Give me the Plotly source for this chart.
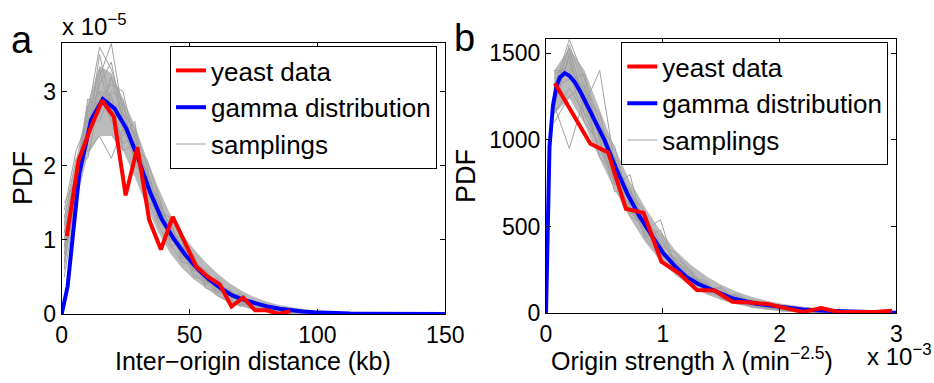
import plotly.graph_objects as go

# ---------------- Panel a : inter-origin distance ----------------
a_data_x = [2.0, 6.6, 11.2, 15.8, 20.4, 25.0, 29.6, 34.2, 38.8, 43.4, 48.0, 52.6,
            57.2, 61.8, 66.4, 71.0, 75.6, 80.2, 84.8, 89.4]
a_data_y = [1.05, 2.07, 2.5, 2.88, 2.66, 1.6, 2.25, 1.27, 0.87, 1.31, 0.98, 0.64,
            0.5, 0.4, 0.1, 0.22, 0.05, 0.05, 0.0, 0.04]

a_gamma_x = [0, 2.3, 6.9, 11.5, 16.1, 20.7, 25.3, 29.9, 34.5, 39.1, 43.7, 48.3, 52.9,
             57.5, 62.1, 66.7, 71.3, 75.9, 80.5, 85.1, 89.7, 94.3, 98.9, 103.5, 108.1,
             112.7, 117.3, 121.9, 126.5, 131.1, 135.7, 140.3, 144.9, 150]
a_gamma_y = [0, 0.37, 1.9, 2.62, 2.9, 2.77, 2.5, 2.1, 1.65, 1.28, 1.02, 0.8, 0.62,
             0.47, 0.35, 0.25, 0.19, 0.14, 0.1, 0.07, 0.05, 0.035, 0.025, 0.015, 0.01,
             0.007, 0.005, 0.003, 0.002, 0.001, 0.0005, 0.0003, 0.0002, 0.0001]

a_samp_x = [1, 5.6, 10.2, 14.8, 19.4, 24, 28.6, 33.2, 37.8, 42.4, 47, 51.6, 56.2,
            60.8, 65.4, 70, 74.6, 79.2, 83.8, 88.4, 93, 97.6, 102.2, 106.8, 111.4, 116]
a_core_low = [0.6, 1.5, 2.15, 2.4, 2.4, 2.2, 1.85, 1.45, 1.1, 0.82, 0.62, 0.47, 0.35,
              0.24, 0.15, 0.1, 0.06, 0.03, 0.015, 0.005, 0, 0, 0, 0, 0, 0]
a_core_high = [1.3, 2.1, 2.85, 3.35, 3.25, 2.9, 2.55, 2.1, 1.7, 1.35, 1.08, 0.88, 0.7,
               0.55, 0.42, 0.32, 0.24, 0.18, 0.13, 0.1, 0.07, 0.05, 0.035, 0.025, 0.018, 0.01]
a_samplings = [
    [0.9, 1.9, 2.7, 3.6, 3.3, 2.8, 2.4, 1.9, 1.5, 1.2, 0.9, 0.75, 0.55, 0.45, 0.3, 0.22, 0.15, 0.1, 0.09, 0.04, 0.05, 0.02, 0.0, 0.02],
    [1.3, 2.1, 2.2, 2.4, 2.1, 2.5, 2.3, 1.9, 1.3, 1.1, 0.8, 0.6, 0.45, 0.3, 0.3, 0.15, 0.1, 0.13, 0.04, 0.02, 0.0, 0.01],
    [0.7, 1.6, 2.5, 3.1, 3.4, 2.6, 2.1, 1.7, 1.5, 1.0, 0.95, 0.6, 0.5, 0.35, 0.25, 0.2, 0.12, 0.06, 0.1, 0.05, 0.02, 0.03, 0.0],
    [1.1, 1.8, 2.9, 2.8, 2.9, 2.7, 2.5, 2.0, 1.4, 1.3, 0.75, 0.7, 0.6, 0.4, 0.22, 0.28, 0.1, 0.08, 0.05, 0.07, 0.01, 0.0],
    [0.5, 1.5, 2.4, 3.5, 2.8, 2.3, 2.4, 1.6, 1.2, 0.9, 1.0, 0.55, 0.4, 0.45, 0.2, 0.12, 0.18, 0.05, 0.03, 0.02, 0.04, 0.0, 0.01, 0.0, 0.02],
    [1.4, 2.2, 2.6, 2.6, 3.0, 2.9, 2.0, 1.85, 1.35, 1.15, 0.85, 0.8, 0.35, 0.3, 0.35, 0.18, 0.08, 0.12, 0.09, 0.03, 0.0, 0.02],
    [0.8, 1.7, 2.3, 3.2, 3.65, 2.7, 2.2, 2.1, 1.6, 0.95, 0.7, 0.65, 0.55, 0.38, 0.28, 0.25, 0.14, 0.09, 0.02, 0.06, 0.03, 0.0],
    [1.0, 1.6, 2.8, 3.0, 2.6, 2.4, 2.6, 1.5, 1.45, 1.2, 0.9, 0.5, 0.48, 0.25, 0.18, 0.1, 0.2, 0.04, 0.06, 0.0, 0.03, 0.02],
    [0.6, 2.0, 2.1, 2.9, 3.1, 3.0, 2.3, 1.8, 1.25, 1.05, 0.8, 0.7, 0.42, 0.5, 0.25, 0.15, 0.1, 0.15, 0.05, 0.08, 0.02, 0.01, 0.03, 0.0],
    [1.2, 1.9, 2.6, 3.3, 2.7, 2.5, 2.1, 1.95, 1.5, 1.0, 1.05, 0.6, 0.52, 0.32, 0.32, 0.2, 0.12, 0.1, 0.07, 0.03, 0.0],
    [0.9, 1.5, 2.5, 2.7, 3.2, 2.6, 2.45, 1.7, 1.6, 1.1, 0.85, 0.72, 0.45, 0.4, 0.2, 0.22, 0.16, 0.06, 0.08, 0.04, 0.05, 0.01, 0.0, 0.01, 0.0, 0.01],
    [1.5, 1.8, 2.35, 3.0, 2.95, 2.2, 2.3, 1.65, 1.3, 1.25, 0.7, 0.68, 0.58, 0.28, 0.3, 0.13, 0.07, 0.1, 0.03, 0.01, 0.02, 0.0],
]

# ---------------- Panel b : origin strength ----------------
b_data_x = [0.076, 0.228, 0.38, 0.532, 0.684, 0.836, 0.988, 1.14, 1.292, 1.444,
            1.596, 1.748, 1.9, 2.052, 2.204, 2.356, 2.508, 2.66, 2.812, 2.964]
b_data_y = [1326, 1150, 978, 928, 603, 578, 298, 231, 134, 131,
            67, 62, 54, 30, 8, 30, 8, 8, 8, 14]

b_gamma_x = [0, 0.03, 0.06, 0.09, 0.12, 0.16, 0.2, 0.25, 0.3, 0.4, 0.5, 0.6, 0.7, 0.8,
             0.9, 1.0, 1.1, 1.2, 1.3, 1.4, 1.5, 1.6, 1.8, 2.0, 2.2, 2.4, 2.6, 2.8, 3.0]
b_gamma_y = [0, 960, 1200, 1310, 1362, 1385, 1370, 1330, 1270, 1140, 1000, 835, 685, 560,
             450, 350, 275, 211, 170, 140, 110, 85, 55, 36, 22, 14, 9, 5, 3]

b_samp_x = [0.07, 0.2, 0.33, 0.46, 0.59, 0.72, 0.85, 0.98, 1.11, 1.24, 1.37, 1.5, 1.63,
            1.76, 1.89, 2.02, 2.15, 2.28, 2.41, 2.54, 2.67, 2.8, 2.93]
b_core_low = [1150, 1240, 1090, 890, 710, 550, 410, 300, 220, 158, 110, 76, 52, 33, 20,
              10, 5, 2, 0, 0, 0, 0, 0]
b_core_high = [1400, 1530, 1400, 1170, 950, 760, 610, 475, 360, 280, 215, 165, 125, 95,
               72, 55, 42, 32, 24, 17, 13, 10, 7]
b_samplings = [
    [1300, 1580, 1350, 1100, 880, 700, 540, 420, 300, 240, 150, 130, 90, 60, 50, 20, 30, 10, 5, 10, 0],
    [1200, 950, 1250, 1000, 760, 600, 470, 360, 270, 190, 170, 100, 70, 60, 30, 25, 10, 12, 0, 5],
    [1350, 1450, 1200, 1400, 850, 640, 500, 380, 290, 230, 140, 110, 85, 40, 45, 15, 18, 5, 8, 0, 3],
    [1150, 1300, 1150, 950, 780, 680, 430, 330, 310, 180, 160, 90, 60, 50, 25, 30, 8, 10, 3, 0],
    [1250, 1550, 1300, 1050, 900, 620, 560, 400, 250, 220, 130, 120, 100, 70, 35, 40, 20, 15, 10, 3, 5, 0, 2],
    [1400, 1400, 1100, 980, 700, 720, 480, 540, 260, 200, 190, 85, 55, 45, 60, 20, 12, 25, 5, 8, 0],
    [1180, 1500, 1250, 1150, 820, 580, 520, 450, 270, 170, 150, 140, 75, 55, 40, 28, 35, 8, 12, 3, 6, 2],
    [1300, 1350, 1380, 1000, 740, 800, 450, 350, 320, 250, 120, 100, 110, 65, 30, 15, 10, 5, 15, 5, 0, 3, 0],
    [1220, 1480, 1150, 1080, 960, 600, 500, 370, 240, 200, 175, 95, 65, 80, 50, 35, 20, 10, 6, 10, 2],
    [1380, 1420, 1280, 900, 800, 700, 580, 340, 280, 190, 140, 150, 80, 35, 28, 45, 15, 20, 4, 0, 5],
    [1100, 1250, 1320, 1020, 860, 640, 440, 480, 290, 215, 165, 90, 95, 50, 38, 22, 25, 6, 10, 2, 0],
    [1280, 1530, 1200, 940, 900, 560, 510, 390, 350, 230, 130, 115, 70, 72, 42, 30, 12, 14, 2, 6, 3, 1],
]

a_xticks = [0, 50, 100, 150]
a_yticks = [0, 1, 2, 3]
b_xticks = [0, 1, 2, 3]
b_yticks = [0, 500, 1000, 1500]

FONT = "Liberation Sans, Arial, sans-serif"
GRAY = "rgb(160,160,160)"
CORE = "rgb(186,186,186)"
RED = "rgb(255,0,0)"
BLUE = "rgb(0,0,255)"

fig = go.Figure()


def add_panel(xa, ya, leg, sx, low, high, samps, gx, gy, dx, dy):
    fig.add_trace(go.Scatter(
        x=sx + sx[::-1], y=high + low[::-1], fill="toself", fillcolor=CORE,
        line=dict(width=0), mode="lines", hoverinfo="skip", showlegend=False,
        xaxis=xa, yaxis=ya))
    for i, s in enumerate(samps):
        fig.add_trace(go.Scatter(
            x=sx[:len(s)], y=s, mode="lines", line=dict(color=GRAY, width=1),
            name="samplings", showlegend=(i == 0), legend=leg, legendrank=3,
            xaxis=xa, yaxis=ya))
    fig.add_trace(go.Scatter(
        x=gx, y=gy, mode="lines", line=dict(color=BLUE, width=4),
        name="gamma distribution", legend=leg, legendrank=2, xaxis=xa, yaxis=ya))
    fig.add_trace(go.Scatter(
        x=dx, y=dy, mode="lines", line=dict(color=RED, width=4),
        name="yeast data", legend=leg, legendrank=1, xaxis=xa, yaxis=ya))


add_panel("x", "y", "legend", a_samp_x, a_core_low, a_core_high, a_samplings,
          a_gamma_x, a_gamma_y, a_data_x, a_data_y)
add_panel("x2", "y2", "legend2", b_samp_x, b_core_low, b_core_high, b_samplings,
          b_gamma_x, b_gamma_y, b_data_x, b_data_y)

axis_common = dict(showline=True, linecolor="black", linewidth=1, mirror="ticks",
                   ticks="inside", ticklen=5, tickcolor="black", showgrid=False,
                   zeroline=False, automargin=False,
                   tickfont=dict(family=FONT, size=23, color="black"))

W, H = 934, 383


def px_x(p):
    return p / W


def px_y(p):
    return 1 - p / H


fig.update_layout(
    template="none",
    width=W, height=H, autosize=False,
    margin=dict(l=0, r=0, t=0, b=0, pad=0),
    paper_bgcolor="white", plot_bgcolor="white",
    font=dict(family=FONT, size=24, color="black"),
    xaxis=dict(domain=[px_x(61.7), px_x(445.3)], range=[0, 150], tickvals=a_xticks,
               anchor="y", **axis_common),
    yaxis=dict(domain=[px_y(314), px_y(42.7)], range=[0, 3.66], tickvals=a_yticks,
               anchor="x", **axis_common),
    xaxis2=dict(domain=[px_x(546), px_x(896.3)], range=[0, 3], tickvals=b_xticks,
                anchor="y2", **axis_common),
    yaxis2=dict(domain=[px_y(313.3), px_y(39.3)], range=[0, 1580], tickvals=b_yticks,
                anchor="x2", **axis_common),
    legend=dict(x=px_x(170), y=px_y(46), xanchor="left", yanchor="top",
                bgcolor="white", bordercolor="black", borderwidth=1,
                font=dict(family=FONT, size=26), tracegroupgap=0, itemwidth=30),
    legend2=dict(x=px_x(621.3), y=px_y(42), xanchor="left", yanchor="top",
                 bgcolor="white", bordercolor="black", borderwidth=1,
                 font=dict(family=FONT, size=26), tracegroupgap=0, itemwidth=30),
)

ann = [
    dict(text="a", x=px_x(22), y=px_y(40), font=dict(size=38), xanchor="center", yanchor="middle"),
    dict(text="b", x=px_x(464), y=px_y(38), font=dict(size=38), xanchor="center", yanchor="middle"),
    dict(text="x 10<sup>\u22125</sup>", x=px_x(60), y=px_y(25), font=dict(size=24),
         xanchor="left", yanchor="middle"),
    dict(text="Inter\u2212origin distance (kb)", x=px_x(253), y=px_y(361), font=dict(size=25),
         xanchor="center", yanchor="middle"),
    dict(text="Origin strength \u03bb (min<sup>\u22122.5</sup>)", x=px_x(692), y=px_y(359),
         font=dict(size=25), xanchor="center", yanchor="middle"),
    dict(text="x 10<sup>\u22123</sup>", x=px_x(865), y=px_y(355), font=dict(size=24),
         xanchor="left", yanchor="middle"),
    dict(text="PDF", x=px_x(23), y=px_y(178), textangle=-90, font=dict(size=27),
         xanchor="center", yanchor="middle"),
    dict(text="PDF", x=px_x(466), y=px_y(176), textangle=-90, font=dict(size=27),
         xanchor="center", yanchor="middle"),
]
for a in ann:
    a.update(xref="paper", yref="paper", showarrow=False)
    a["font"]["family"] = FONT
    a["font"]["color"] = "black"
fig.update_layout(annotations=ann)

fig.write_html("out.html")
